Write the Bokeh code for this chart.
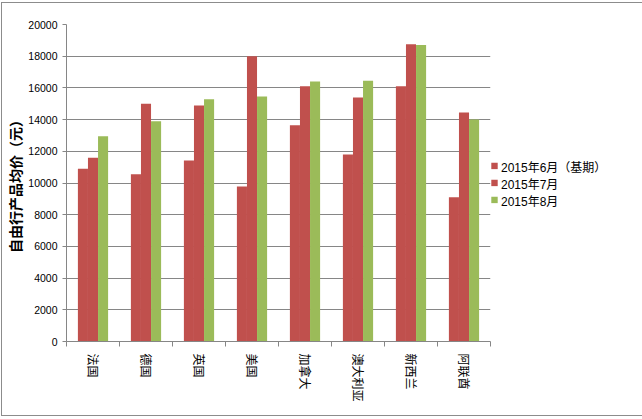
import numpy as np
from bokeh.plotting import figure
from bokeh.models import (ColumnDataSource, Range1d, FixedTicker, Legend, LegendItem)
from bokeh.transform import dodge
from bokeh.embed import file_html
from bokeh.resources import INLINE

countries = ["法国", "德国", "英国", "美国", "加拿大", "澳大利亚", "新西兰", "阿联酋"]
jun = [10900, 10550, 11420, 9780, 13650, 11800, 16100, 9100]
jul = [11600, 15000, 14890, 18000, 16100, 15400, 18750, 14450]
aug = [12950, 13900, 15280, 15450, 16400, 16450, 18700, 14000]
series_names = ["2015年6月（基期）", "2015年7月", "2015年8月"]
y_ticks = list(range(0, 20001, 2000))

RED = "#C0504D"
GREEN = "#9BBB59"
GRAY = "#868686"
LAT = "Liberation Sans, Noto Sans CJK SC"
CJK = "Noto Sans CJK SC"

n = len(countries)
centers = (np.arange(n) + 0.5).tolist()
bounds = list(range(n + 1))

src = ColumnDataSource(dict(x=centers, jun=jun, jul=jul, aug=aug))

p = figure(frame_width=424, frame_height=317, output_backend="svg", toolbar_location=None,
           x_range=Range1d(0, n), y_range=Range1d(0, 20000),
           min_border_left=60, min_border_top=21, min_border_right=146, min_border_bottom=74,
           background_fill_color="white", border_fill_color="white")
p.styles = {"border": "1px solid #8c8c8c", "margin": "2px 0 0 1px"}
p.outline_line_color = None

w = 0.19
r1 = p.vbar(x=dodge("x", -w), top="jun", width=w, source=src, fill_color=RED, line_color=None)
r2 = p.vbar(x=dodge("x", 0), top="jul", width=w, source=src, fill_color=RED, line_color=None)
r3 = p.vbar(x=dodge("x", w), top="aug", width=w, source=src, fill_color=GREEN, line_color=None)

# y axis
ya = p.yaxis[0]
ya.ticker = FixedTicker(ticks=y_ticks)
ya.axis_line_color = GRAY
ya.major_tick_line_color = GRAY
ya.major_tick_out = 4
ya.major_tick_in = 0
ya.minor_tick_line_color = None
ya.major_label_text_font = LAT
ya.major_label_text_font_size = "10.5px"
ya.major_label_text_color = "#000000"
ya.major_label_standoff = 5
ya.axis_label = "自由行产品均价（元）"
ya.axis_label_text_font = CJK
ya.axis_label_text_font_style = "bold"
ya.axis_label_text_font_size = "14px"
ya.axis_label_text_color = "#000000"
ya.axis_label_standoff = 0

p.xgrid.grid_line_color = None
p.ygrid.grid_line_color = GRAY
p.ygrid.ticker = FixedTicker(ticks=y_ticks)

# x axis: labels at category centres, tick marks between categories
xa = p.xaxis[0]
xa.ticker = FixedTicker(ticks=centers, minor_ticks=bounds)
xa.major_label_overrides = {c: name for c, name in zip(centers, countries)}
xa.axis_line_color = GRAY
xa.major_tick_line_color = None
xa.major_tick_out = 0
xa.major_tick_in = 0
xa.minor_tick_line_color = GRAY
xa.minor_tick_out = 5
xa.minor_tick_in = 0
xa.major_label_orientation = "vertical"
xa.major_label_text_font = CJK
xa.major_label_text_font_size = "12px"
xa.major_label_text_color = "#000000"
xa.major_label_standoff = 7

legend = Legend(items=[LegendItem(label=series_names[0], renderers=[r1]),
                       LegendItem(label=series_names[1], renderers=[r2]),
                       LegendItem(label=series_names[2], renderers=[r3])],
                location="center_left", margin=0, padding=5, border_line_color=None,
                glyph_width=8, glyph_height=8, label_standoff=3, label_height=14,
                spacing=-1, label_text_font=LAT, label_text_font_size="12px",
                label_text_color="#000000", background_fill_alpha=0)
p.add_layout(legend, "right")

open("out.html", "w").write(file_html(p, INLINE))
